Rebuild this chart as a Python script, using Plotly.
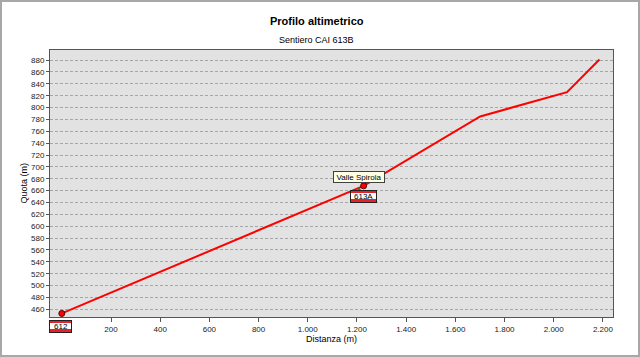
import plotly.graph_objects as go

# ---- data ----
dist = [0, 1227, 1701, 2054, 2186]
quota = [453, 668, 785, 826, 881]

wp_dist = [0, 1227]
wp_quota = [453, 668]

trail_labels = ["612", "613A"]
trail_label_dist = [0, 1227]
trail_label_quota = [453, 668]

poi_names = ["Valle Spirola"]
poi_dist = [1227]
poi_quota = [668]

arrow_dist = [1209]
arrow_quota = [661]

x_ticks = [200, 400, 600, 800, 1000, 1200, 1400, 1600, 1800, 2000, 2200]
y_ticks = list(range(460, 881, 20))

FONT = "Liberation Sans, Arial, sans-serif"

fig = go.Figure()

fig.add_trace(go.Scatter(
    x=dist, y=quota, mode="lines",
    line=dict(color="#ff0000", width=2),
    hoverinfo="skip", showlegend=False,
))
fig.add_trace(go.Scatter(
    x=arrow_dist, y=arrow_quota, mode="markers",
    marker=dict(symbol="triangle-up", size=5, color="#2e7d32"),
    hoverinfo="skip", showlegend=False,
))
fig.add_trace(go.Scatter(
    x=wp_dist, y=wp_quota, mode="markers",
    marker=dict(symbol="circle", size=6, color="#ff0000",
                line=dict(color="#600000", width=1)),
    hoverinfo="skip", showlegend=False, cliponaxis=False,
))

annotations = []
# trail sign labels (red/white/red)
for lbl, xd, yd in zip(trail_labels, trail_label_dist, trail_label_quota):
    w = 21 if len(lbl) <= 3 else 25
    shift = -13 if xd == 0 else -10.5
    xs = -1 if xd == 0 else 0
    common = dict(x=xd, y=yd, xref="x", yref="y", showarrow=False,
                  xanchor="center", yanchor="middle", xshift=xs, yshift=shift)
    annotations.append(dict(
        text=" ", width=w, height=11, bgcolor="#e8202a", bordercolor="#222222",
        borderwidth=1, borderpad=0, font=dict(size=1), **common,
    ))
    annotations.append(dict(
        text=" ", width=w, height=6, bgcolor="#ffffff", borderwidth=0,
        borderpad=0, font=dict(size=1), **common,
    ))
    annotations.append(dict(
        text=lbl, font=dict(family=FONT, size=8, color="#000000"), **common,
    ))

# point-of-interest tooltip
for name, xd, yd in zip(poi_names, poi_dist, poi_quota):
    annotations.append(dict(
        x=xd, y=yd, xref="x", yref="y", text=name, showarrow=False,
        xanchor="center", yanchor="bottom", xshift=-5, yshift=3,
        width=48, height=8, bgcolor="#ffffe1", bordercolor="#404040",
        borderwidth=1, borderpad=1,
        font=dict(family=FONT, size=8, color="#000000"),
    ))

# titles
annotations.append(dict(
    x=0.474, y=1.1086, xref="paper", yref="paper", text="<b>Profilo altimetrico</b>",
    showarrow=False, xanchor="center", yanchor="middle",
    font=dict(family=FONT, size=11, color="#000000"),
))
annotations.append(dict(
    x=0.474, y=1.037, xref="paper", yref="paper", text="Sentiero CAI 613B",
    showarrow=False, xanchor="center", yanchor="middle",
    font=dict(family=FONT, size=9, color="#000000"),
))
# y-axis title
annotations.append(dict(
    x=(23 - 50) / 563, y=0.5, xref="paper", yref="paper", text="Quota (m)",
    showarrow=False, xanchor="center", yanchor="middle", textangle=-90,
    font=dict(family=FONT, size=9, color="#000000"),
))

# outer figure border
shapes = [dict(
    type="rect", xref="paper", yref="paper",
    x0=(1 - 50) / 563, x1=(639 - 50) / 563,
    y0=(317 - 356) / 267, y1=(317 - 1) / 267,
    line=dict(color="#a8a8a8", width=2), fillcolor="rgba(0,0,0,0)", layer="below",
)]

fig.update_layout(
    width=640, height=357,
    margin=dict(l=50, r=27, t=50, b=40),
    paper_bgcolor="#ffffff", plot_bgcolor="#e2e2e2",
    separators=",.",
    font=dict(family=FONT, size=8, color="#222222"),
    annotations=annotations, shapes=shapes,
    showlegend=False,
)
fig.update_xaxes(
    range=[-48, 2241], tickvals=x_ticks, tickformat=",d",
    showgrid=False, zeroline=False,
    ticks="outside", ticklen=4, tickcolor="#555555",
    showline=True, linecolor="#555555", linewidth=1, mirror=True,
    tickfont=dict(family=FONT, size=8, color="#222222"),
    title=dict(text="Distanza (m)", standoff=1,
               font=dict(family=FONT, size=9, color="#000000")),
)
fig.update_yaxes(
    range=[447, 897], tickvals=y_ticks,
    showgrid=True, gridcolor="#a6a6a6", gridwidth=1, griddash="3px,2px",
    zeroline=False,
    ticks="outside", ticklen=3, tickcolor="#555555",
    showline=True, linecolor="#555555", linewidth=1, mirror=True,
    tickfont=dict(family=FONT, size=8, color="#222222"),
)

fig.write_html("out.html")
